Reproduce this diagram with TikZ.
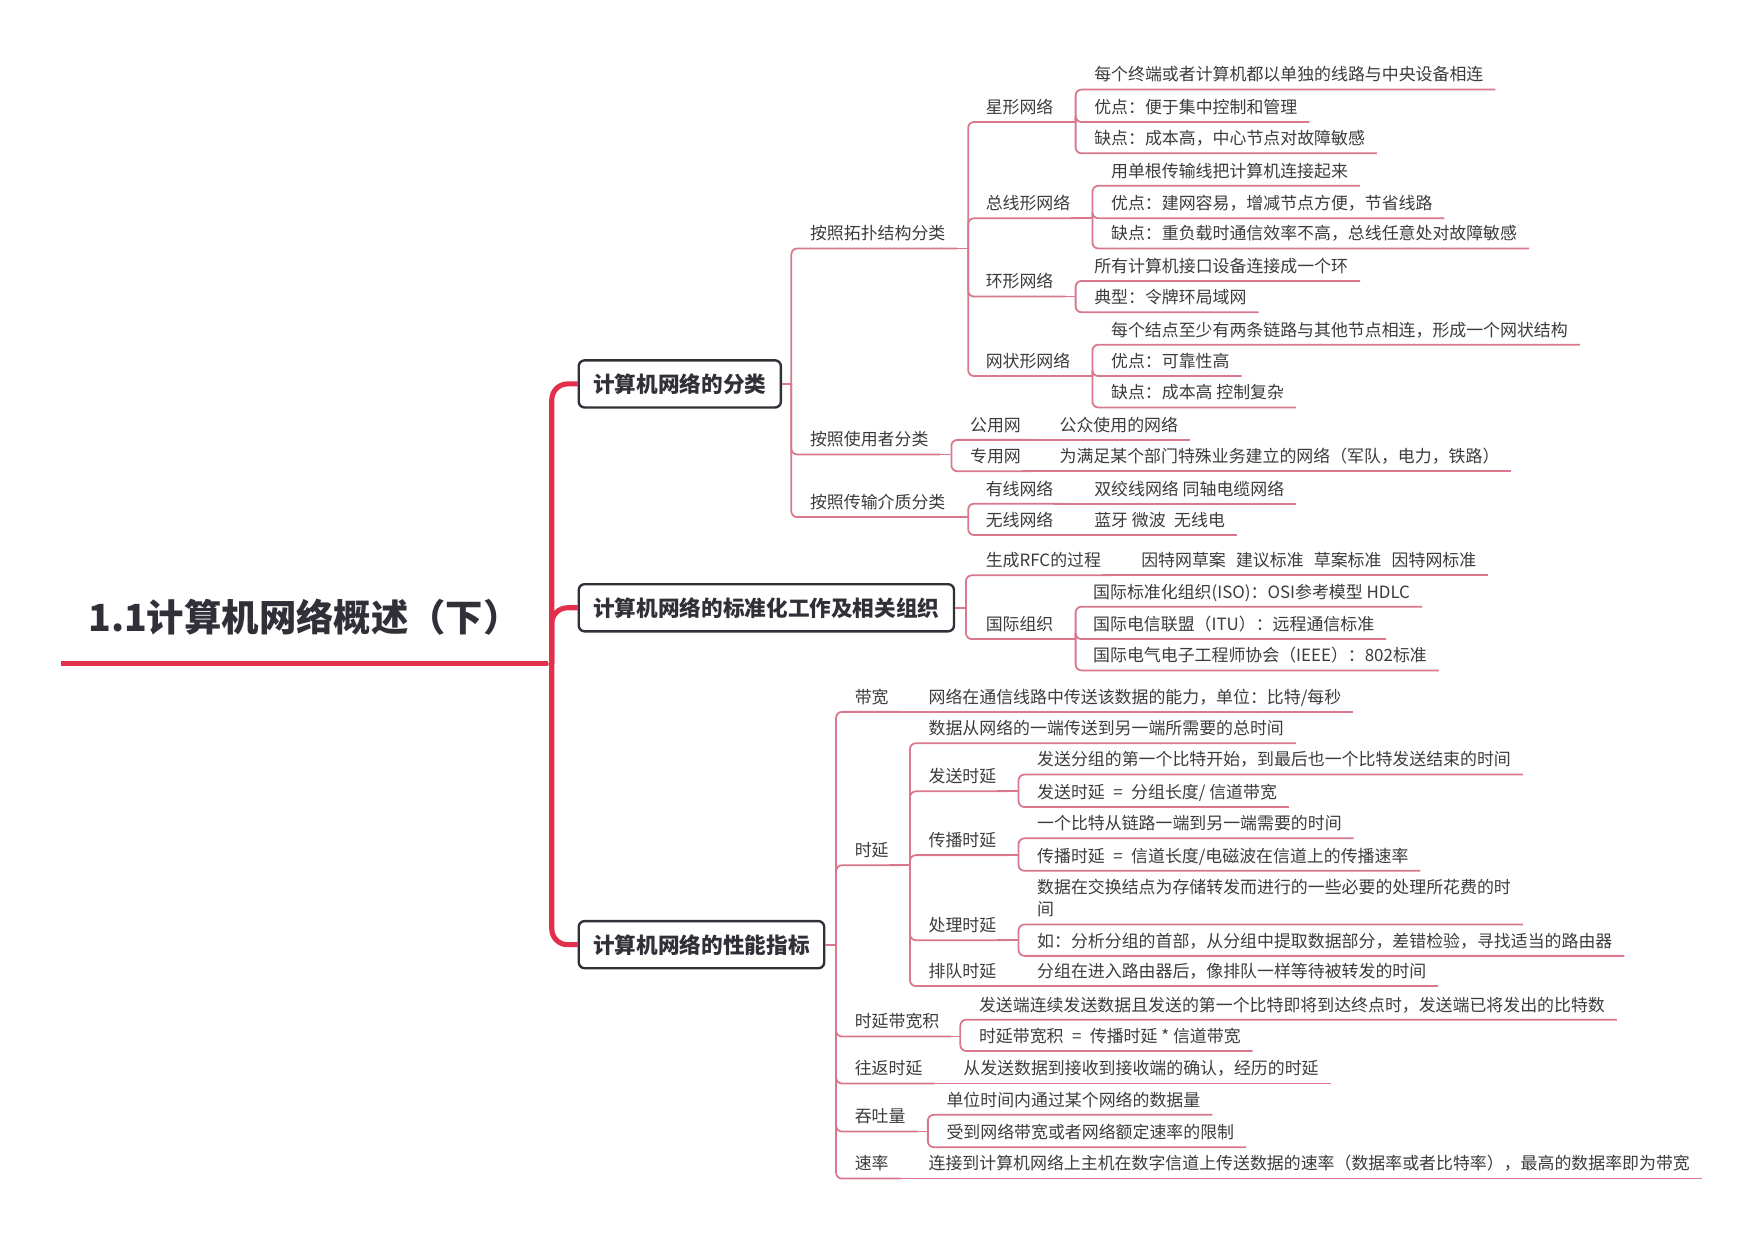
\documentclass[tikz,border=0pt]{standalone}
\usepackage{fontspec}
\setmainfont{Noto Sans CJK SC}
\usetikzlibrary{positioning}
\definecolor{mapred}{HTML}{E2304A}
\definecolor{linkpink}{HTML}{D9788C}
\definecolor{inkgray}{HTML}{3C3C3C}
\definecolor{boxgray}{HTML}{303038}

\begin{document}
\begin{tikzpicture}[
    every node/.style={text=inkgray},
    topic/.style={anchor=south west, inner xsep=0pt, inner ysep=0.07cm, text depth=0pt, align=left, font=\fontsize{4.3}{5.7}\selectfont},
    mainbox/.style={draw=boxgray, line width=0.6pt, rounded corners=1.5pt, fill=white, anchor=west, inner xsep=0.13cm, minimum height=0.41cm, text=boxgray, font=\fontsize{5.5}{6.6}\selectfont\bfseries},
    link/.style={draw=linkpink, line width=0.45pt, rounded corners=1.5pt},
    trunk/.style={draw=mapred, line width=1.3pt, rounded corners=4pt}
]
\useasboundingbox[fill=white] (0,0) rectangle (15.68,-11.08);

% Central topic
\node[anchor=south, inner xsep=0.24cm, inner ysep=0.28cm, text depth=0pt, text=boxgray, font=\fontsize{9.5}{11}\selectfont\bfseries] (title) at (2.72,-5.93) {1.1计算机网络概述（下）};
\draw[mapred, line width=1.3pt] (title.south west) -- (title.south east);
\coordinate (spine) at (4.93,-5.93);
\draw[link] (title.south east) -- (spine);

% Main branches
\draw[trunk] (5.16,-3.43) -| (spine) |- (5.16,-8.44);
\draw[trunk] (spine) |- (5.16,-5.43);
\node[mainbox] (cls) at (5.16,-3.43) {计算机网络的分类};
\node[mainbox] (std) at (5.16,-5.43) {计算机网络的标准化工作及相关组织};
\node[mainbox] (perf) at (5.16,-8.44) {计算机网络的性能指标};

% Junctions
\coordinate (j-cls) at (7.07,-3.43);
\coordinate (j-topo) at (8.65,-2.22);
\coordinate (j-star) at (9.61,-1.09);
\coordinate (j-bus) at (9.76,-1.95);
\coordinate (j-ring) at (9.61,-2.65);
\coordinate (j-mesh) at (9.76,-3.36);
\coordinate (j-user) at (8.50,-4.06);
\coordinate (j-media) at (8.65,-4.62);
\coordinate (j-std) at (8.63,-5.43);
\coordinate (j-org) at (9.61,-5.71);
\coordinate (j-perf) at (7.47,-8.44);
\coordinate (j-delay) at (8.13,-7.73);
\coordinate (j-tx) at (9.10,-7.07);
\coordinate (j-prop) at (9.10,-7.64);
\coordinate (j-proc) at (9.10,-8.40);
\coordinate (j-dbp) at (8.58,-9.26);
\coordinate (j-thr) at (8.29,-10.11);

% Classification
\node[topic] (topo) at (7.23,-2.22) {按照拓扑结构分类};
\node[topic] (user) at (7.23,-4.06) {按照使用者分类};
\node[topic] (media) at (7.23,-4.62) {按照传输介质分类};
\node[topic] (star) at (8.80,-1.09) {星形网络};
\node[topic] (bus) at (8.80,-1.95) {总线形网络};
\node[topic] (ring) at (8.80,-2.65) {环形网络};
\node[topic] (mesh) at (8.80,-3.36) {网状形网络};
\node[topic] (star1) at (9.77,-0.80) {每个终端或者计算机都以单独的线路与中央设备相连};
\node[topic] (star2) at (9.77,-1.09) {优点：便于集中控制和管理};
\node[topic] (star3) at (9.77,-1.37) {缺点：成本高，中心节点对故障敏感};
\node[topic] (bus1) at (9.92,-1.66) {用单根传输线把计算机连接起来};
\node[topic] (bus2) at (9.92,-1.95) {优点：建网容易，增减节点方便，节省线路};
\node[topic] (bus3) at (9.92,-2.22) {缺点：重负载时通信效率不高，总线任意处对故障敏感};
\node[topic] (ring1) at (9.77,-2.51) {所有计算机接口设备连接成一个环};
\node[topic] (ring2) at (9.77,-2.79) {典型：令牌环局域网};
\node[topic] (mesh1) at (9.92,-3.08) {每个结点至少有两条链路与其他节点相连，形成一个网状结构};
\node[topic] (mesh2) at (9.92,-3.36) {优点：可靠性高};
\node[topic] (mesh3) at (9.92,-3.64) {缺点：成本高 控制复杂};
\node[topic] (pub) at (8.66,-3.93) {公用网};
\node[topic] (pubd) at (9.46,-3.93) {公众使用的网络};
\node[topic] (priv) at (8.66,-4.21) {专用网};
\node[topic] (privd) at (9.46,-4.21) {为满足某个部门特殊业务建立的网络（军队，电力，铁路）};
\node[topic] (wired) at (8.80,-4.50) {有线网络};
\node[topic] (wiredd) at (9.77,-4.50) {双绞线网络 同轴电缆网络};
\node[topic] (wless) at (8.80,-4.78) {无线网络};
\node[topic] (wlessd) at (9.77,-4.78) {蓝牙 微波\hspace{0.5em}无线电};

% Standards
\node[topic] (rfc) at (8.80,-5.14) {生成RFC的过程};
\node[topic] (rfcd) at (10.19,-5.14) {因特网草案\hspace{0.6em}建议标准\hspace{0.6em}草案标准\hspace{0.6em}因特网标准};
\node[topic] (org) at (8.80,-5.71) {国际组织};
\node[topic] (org1) at (9.76,-5.42) {国际标准化组织(ISO)：OSI参考模型 HDLC};
\node[topic] (org2) at (9.76,-5.71) {国际电信联盟（ITU）：远程通信标准};
\node[topic] (org3) at (9.76,-5.99) {国际电气电子工程师协会（IEEE）：802标准};

% Performance
\node[topic] (bw) at (7.63,-6.36) {带宽};
\node[topic] (bwd) at (8.29,-6.36) {网络在通信线路中传送该数据的能力，单位：比特/每秒};
\node[topic] (delay) at (7.63,-7.73) {时延};
\node[topic] (d0) at (8.29,-6.64) {数据从网络的一端传送到另一端所需要的总时间};
\node[topic] (tx) at (8.29,-7.07) {发送时延};
\node[topic] (tx1) at (9.26,-6.92) {发送分组的第一个比特开始，到最后也一个比特发送结束的时间};
\node[topic] (tx2) at (9.26,-7.21) {发送时延\hspace{0.5em}=\hspace{0.5em}分组长度/ 信道带宽};
\node[topic] (prop) at (8.29,-7.64) {传播时延};
\node[topic] (prop1) at (9.26,-7.49) {一个比特从链路一端到另一端需要的时间};
\node[topic] (prop2) at (9.26,-7.78) {传播时延\hspace{0.5em}=\hspace{0.5em}信道长度/电磁波在信道上的传播速率};
\node[topic] (proc) at (8.29,-8.40) {处理时延};
\node[topic] (proc1) at (9.26,-8.26) {数据在交换结点为存储转发而进行的一些必要的处理所花费的时\\间};
\node[topic] (proc2) at (9.26,-8.54) {如：分析分组的首部，从分组中提取数据部分，差错检验，寻找适当的路由器};
\node[topic] (queue) at (8.29,-8.81) {排队时延};
\node[topic] (queued) at (9.26,-8.81) {分组在进入路由器后，像排队一样等待被转发的时间};
\node[topic] (dbp) at (7.63,-9.26) {时延带宽积};
\node[topic] (dbp1) at (8.74,-9.11) {发送端连续发送数据且发送的第一个比特即将到达终点时，发送端已将发出的比特数};
\node[topic] (dbp2) at (8.74,-9.39) {时延带宽积\hspace{0.5em}=\hspace{0.5em}传播时延 * 信道带宽};
\node[topic] (rtt) at (7.63,-9.68) {往返时延};
\node[topic] (rttd) at (8.60,-9.68) {从发送数据到接收到接收端的确认，经历的时延};
\node[topic] (thr) at (7.63,-10.11) {吞吐量};
\node[topic] (thr1) at (8.45,-9.96) {单位时间内通过某个网络的数据量};
\node[topic] (thr2) at (8.45,-10.25) {受到网络带宽或者网络额定速率的限制};
\node[topic] (rate) at (7.63,-10.53) {速率};
\node[topic] (rated) at (8.29,-10.53) {连接到计算机网络上主机在数字信道上传送数据的速率（数据率或者比特率），最高的数据率即为带宽};

% Connectors: box to junction
\draw[link] (cls.east) -- (j-cls);
\draw[link] (std.east) -- (j-std);
\draw[link] (perf.east) -- (j-perf);
% Connectors: parent underline to junction
\foreach \p in {topo,star,bus,ring,mesh,user,media,org,delay,tx,prop,proc,dbp,thr}
    \draw[link] (\p.south east) -- (j-\p);
% Connectors: junction to child underline
\foreach \j/\c in {cls/topo,cls/user,cls/media,
    topo/star,topo/bus,topo/ring,topo/mesh,
    star/star1,star/star2,star/star3,bus/bus1,bus/bus2,bus/bus3,
    ring/ring1,ring/ring2,mesh/mesh1,mesh/mesh2,mesh/mesh3,
    user/pub,user/priv,media/wired,media/wless,
    std/rfc,std/org,org/org1,org/org2,org/org3,
    perf/bw,perf/delay,perf/dbp,perf/rtt,perf/thr,perf/rate,
    delay/d0,delay/tx,delay/prop,delay/proc,delay/queue,
    tx/tx1,tx/tx2,prop/prop1,prop/prop2,proc/proc1,proc/proc2,
    dbp/dbp1,dbp/dbp2,thr/thr1,thr/thr2}
    \draw[link] (j-\j) |- ([xshift=1mm]\c.south east);
% Connectors: single child chains
\foreach \p/\c in {pub/pubd,priv/privd,wired/wiredd,wless/wlessd,rfc/rfcd,bw/bwd,queue/queued,rtt/rttd,rate/rated}
    \draw[link] (\p.south east) -- ([xshift=1mm]\c.south east);
\end{tikzpicture}
\end{document}
